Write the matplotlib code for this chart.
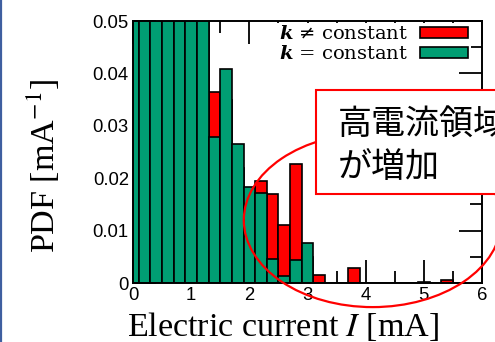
import matplotlib
matplotlib.use("Agg")
import matplotlib.pyplot as plt
from matplotlib.patches import Ellipse, Rectangle
from matplotlib.lines import Line2D
from matplotlib.font_manager import FontProperties
from matplotlib.ticker import MultipleLocator, FixedLocator

# ---- data (bin centres, bin width 0.2 mA) ----
bin_centers = [round(0.2 * i, 1) for i in range(30)]
bin_width = 0.2
pdf_k_const = [0.40, 0.85, 1.00, 0.95, 0.80, 0.55, 0.30,
               0.0279, 0.0408, 0.0265, 0.0184, 0.0171, 0.0046, 0.0013, 0.0044, 0.0077,
               0, 0, 0, 0, 0, 0, 0, 0, 0, 0.0002, 0, 0, 0, 0]
pdf_k_var = [0.30, 0.70, 0.90, 0.85, 0.70, 0.45, 0.20,
             0.0364, 0.0350, 0.0220, 0.0150, 0.0194, 0.0170, 0.0111, 0.0228, 0.0050,
             0.0016, 0, 0, 0.0028, 0, 0, 0, 0, 0, 0, 0, 0.0006, 0, 0]
ytick_vals = [0, 0.01, 0.02, 0.03, 0.04, 0.05]
ytick_labels = ["0", "0.01", "0.02", "0.03", "0.04", "0.05"]
xtick_vals = [0, 1, 2, 3, 4, 5, 6]
xtick_labels = ["0", "1", "2", "3", "4", "5", "6"]
legend_labels = [r"$\boldsymbol{k}$ ≠ constant", r"$\boldsymbol{k}$ = constant"]
note_lines = ["高電流領域", "が増加"]

RED = "#FF0000"
GREEN = "#009E73"

fig = plt.figure(figsize=(4.95, 3.42), dpi=100)
ax = fig.add_axes([133 / 495, 1 - 283 / 342, 349 / 495, 262 / 342])

b1 = ax.bar(bin_centers, pdf_k_var, width=bin_width, color=RED, edgecolor="black",
            linewidth=1.2, zorder=1)
b2 = ax.bar(bin_centers, pdf_k_const, width=bin_width, color=GREEN, edgecolor="black",
            linewidth=1.2, zorder=1.1)

ax.set_xlim(0, 6)
ax.set_ylim(0, 0.05)
ax.set_axisbelow(True)
ax.xaxis.set_major_locator(FixedLocator(xtick_vals))
ax.set_xticklabels(xtick_labels)
ax.yaxis.set_major_locator(FixedLocator(ytick_vals))
ax.set_yticklabels(ytick_labels)
ax.xaxis.set_minor_locator(MultipleLocator(0.5))
ax.yaxis.set_minor_locator(MultipleLocator(0.005))
ax.tick_params(which="both", direction="in", top=True, right=True, width=1.3,
               labelsize=13.3, colors="black")
ax.tick_params(which="major", length=16.5)
ax.tick_params(which="minor", length=8.6)
ax.tick_params(axis="x", pad=3)
ax.tick_params(axis="y", pad=3)
for lab in ax.get_xticklabels() + ax.get_yticklabels():
    lab.set_fontfamily("Liberation Sans")
for sp in ax.spines.values():
    sp.set_linewidth(1.4)

# axis labels
fig.text(282.5 / 495, 1 - 336 / 342, r"Electric current $I$ [mA]", ha="center",
         va="baseline", fontsize=24.5, family="Liberation Serif",
         math_fontfamily="stix")
fig.text(43 / 495, 1 - 165.5 / 342, r"PDF [mA$^{-1}$]", ha="center", va="center",
         rotation=90, fontsize=24.5, family="Liberation Serif", math_fontfamily="stix")

# legend
lp = FontProperties(family="DejaVu Serif", size=14, math_fontfamily="dejavuserif")
leg = ax.legend([b1, b2], legend_labels, loc="upper right",
                bbox_to_anchor=((471 - 133) / 349, (283 - 22.5) / 262),
                prop=lp, markerfirst=False, frameon=True, fancybox=False,
                edgecolor="none", facecolor="white", framealpha=1,
                borderpad=0.15, borderaxespad=0, handlelength=2.45,
                handleheight=0.43, handletextpad=0.65, labelspacing=0.1)
leg.set_zorder(10)
for h in leg.legend_handles:
    h.set_linewidth(1.2)

# annotation ellipse and box
ell = Ellipse((4.12, 0.0120), 4.43, 0.0332, fill=False, edgecolor=RED, linewidth=1.6,
              clip_on=False, zorder=4)
ax.add_patch(ell)
box = Rectangle((3.139, 0.01698), 4.0, 0.01985, facecolor="white", edgecolor=RED,
                linewidth=1.5, clip_on=False, zorder=5)
ax.add_patch(box)
ax.text(3.52, 0.03034, note_lines[0], ha="left", va="center", fontsize=24.5,
        family="Noto Sans CJK JP", zorder=6, clip_on=False)
ax.text(3.52, 0.02204, note_lines[1], ha="left", va="center", fontsize=24.5,
        family="Noto Sans CJK JP", zorder=6, clip_on=False)

# left border line from slide
fig.add_artist(Line2D([0.002, 0.002], [0, 1], transform=fig.transFigure,
                      color="#3F5FA0", linewidth=1.6))

fig.savefig("out.png", dpi=100)
